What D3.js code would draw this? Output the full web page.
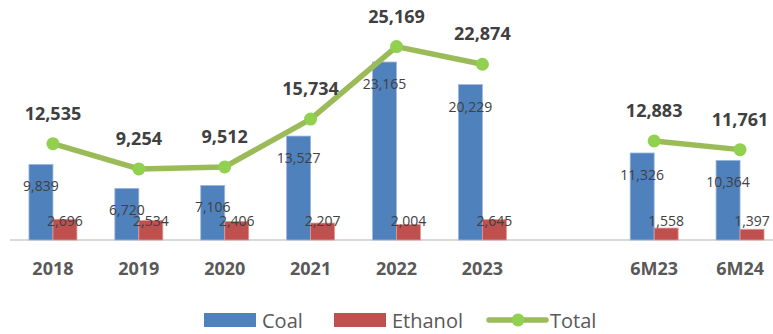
<!DOCTYPE html>
<html><head><meta charset="utf-8">
<script src="https://cdn.jsdelivr.net/npm/d3@7"></script>
<style>html,body{margin:0;padding:0;background:#fff;}svg{display:block;}</style>
</head><body>
<svg id="chart" width="773" height="334"></svg>
<script>
const categories = ["2018","2019","2020","2021","2022","2023","","6M23","6M24"];
const coal = [9839,6720,7106,13527,23165,20229,null,11326,10364];
const ethanol = [2696,2534,2406,2207,2004,2645,null,1558,1397];
const total = [12535,9254,9512,15734,25169,22874,null,12883,11761];
const seriesNames = ["Coal","Ethanol","Total"];
const colors = {Coal:"#4F81BD", Ethanol:"#C0504D", Total:"#9BBB59", marker:"#92D050"};

const svg = d3.select("#chart");
const font = "'Open Sans', sans-serif";
const x = d3.scaleBand().domain(categories).range([10, 783]).padding(0);
const xs = d3.scaleBand().domain(["Coal","Ethanol"]).range([0, x.bandwidth()]).paddingInner(0).paddingOuter(0.79);
const y = d3.scaleLinear().domain([0, 30000]).range([240, 9.5]);

const rows = categories.map((c,i)=>({c, coal:coal[i], ethanol:ethanol[i], total:total[i]}));
const valid = rows.filter(r=>r.coal!=null);
const fmt = d3.format(",");

// axis baseline
svg.append("line").attr("x1",10).attr("x2",773).attr("y1",y(0)).attr("y2",y(0))
  .attr("stroke","#D9D9D9").attr("stroke-width",2);

// bars
svg.selectAll(".coal").data(valid).join("rect")
  .attr("x",d=>x(d.c)+xs("Coal")).attr("width",xs.bandwidth())
  .attr("y",d=>y(d.coal)).attr("height",d=>y(0)-y(d.coal))
  .attr("fill",colors.Coal).attr("stroke","#9DB8DC").attr("stroke-width",0.8);
svg.selectAll(".eth").data(valid).join("rect")
  .attr("x",d=>x(d.c)+xs("Ethanol")).attr("width",xs.bandwidth())
  .attr("y",d=>y(d.ethanol)).attr("height",d=>y(0)-y(d.ethanol))
  .attr("fill",colors.Ethanol).attr("stroke","#E09A98").attr("stroke-width",0.8);

// x labels
svg.selectAll(".xl").data(rows.filter(r=>r.c!=="")).join("text")
  .attr("x",d=>x(d.c)+x.bandwidth()/2).attr("y",275)
  .attr("text-anchor","middle").attr("font-family",font).attr("font-weight","bold")
  .attr("font-size",18).attr("fill","#595959").text(d=>d.c);

// line
const cx = d=>x(d.c)+x.bandwidth()/2;
const line = d3.line().defined(d=>d.total!=null).x(cx).y(d=>y(d.total));
svg.append("path").datum(rows).attr("d",line).attr("fill","none")
  .attr("stroke",colors.Total).attr("stroke-width",5.5).attr("stroke-linejoin","round");
svg.selectAll(".pt").data(valid).join("circle")
  .attr("cx",cx).attr("cy",d=>y(d.total)).attr("r",6.5).attr("fill",colors.marker);

// labels
svg.selectAll(".tl").data(valid).join("text")
  .attr("x",cx).attr("y",d=>y(d.total)-24).attr("text-anchor","middle")
  .attr("font-family",font).attr("font-weight","bold").attr("font-size",18)
  .attr("fill","#404040").text(d=>fmt(d.total));
svg.selectAll(".cl").data(valid).join("text")
  .attr("x",d=>x(d.c)+xs("Coal")+xs.bandwidth()/2).attr("y",d=>y(d.coal)+27)
  .attr("text-anchor","middle").attr("font-family",font).attr("font-size",14)
  .attr("fill","#404040").text(d=>fmt(d.coal));
svg.selectAll(".el").data(valid).join("text")
  .attr("x",d=>x(d.c)+xs("Ethanol")+xs.bandwidth()/2).attr("y",y(0)-14)
  .attr("text-anchor","middle").attr("font-family",font).attr("font-size",14)
  .attr("fill","#404040").text(d=>fmt(d.ethanol));

// legend
const lg = svg.append("g");
const legendX = [204, 334, 489];
seriesNames.forEach((s,i)=>{
  const g = lg.append("g").attr("transform",`translate(${legendX[i]},320)`);
  let tx;
  if (s==="Total") {
    g.append("line").attr("x1",0).attr("x2",57).attr("y1",0).attr("y2",0)
      .attr("stroke",colors.Total).attr("stroke-width",5.5).attr("stroke-linecap","round");
    g.append("circle").attr("cx",29).attr("cy",0).attr("r",6.5).attr("fill",colors.marker);
    tx = 61;
  } else {
    g.append("rect").attr("x",0).attr("y",-7).attr("width",52).attr("height",14).attr("fill",colors[s]);
    tx = 58;
  }
  g.append("text").attr("x",tx).attr("y",7.5).attr("font-family",font).attr("font-size",20)
    .attr("fill","#595959").text(s);
});
</script>
</body></html>
